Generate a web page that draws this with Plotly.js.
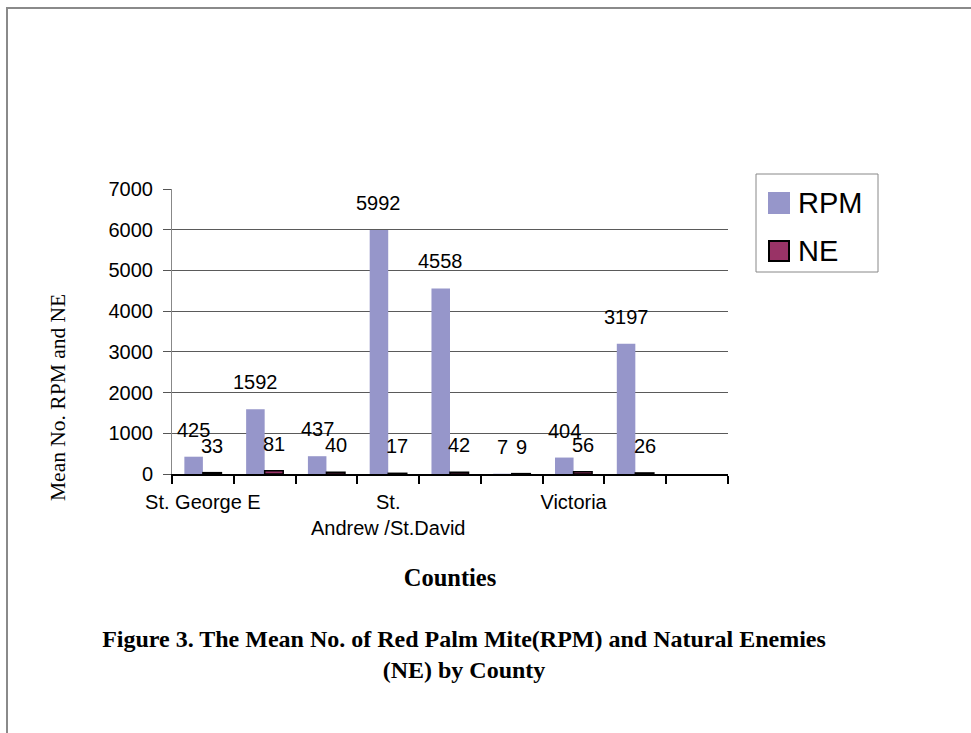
<!DOCTYPE html>
<html>
<head>
<meta charset="utf-8">
<script src="https://cdn.plot.ly/plotly-3.0.1.min.js"></script>
<style>
  html, body { margin: 0; padding: 0; background: #fff; }
  #wrap { position: relative; width: 971px; height: 733px; }
  #chart { width: 971px; height: 733px; }
  #frame { position: absolute; left: 6px; top: 7px; right: -10px; bottom: -10px;
           border-top: 2px solid #8a8a8a; border-left: 2px solid #8a8a8a; pointer-events: none; }
</style>
</head>
<body>
<div id="wrap"><div id="chart"></div><div id="frame"></div></div>
<script>
// ---- data ----
const categories = ["St. George E", "Site 2", "Site 3", "St. Andrew /St.David", "Site 5", "Site 6", "Victoria", "Site 8", "Site 9"];
const tickLabels = ["St. George E", "", "", "St.<br>Andrew /St.David", "", "", "Victoria", "", ""];
const seriesNames = ["RPM", "NE"];
const rpmValues = [425, 1592, 437, 5992, 4558, 7, 404, 3197, null];
const neValues = [33, 81, 40, 17, 42, 9, 56, 26, null];
const yTicks = [0, 1000, 2000, 3000, 4000, 5000, 6000, 7000];
const gridTicks = [1000, 2000, 3000, 4000, 5000, 6000];

// ---- styling ----
const W = 971, H = 733;
const M = { l: 172, r: W - 728, t: 189, b: H - 474 };
const plotW = W - M.l - M.r, plotH = H - M.t - M.b;
const colRPM = "#9696ca", colNE = "#993366";
const sans = "Liberation Sans, Arial, sans-serif";
const serif = "Liberation Serif, Times New Roman, serif";
const bargap = 0.4;
const catPx = plotW / categories.length;
const barOff = (1 - bargap) / 4 * catPx;

function px2paperX(px) { return (px - M.l) / plotW; }
function px2paperY(py) { return (M.t + plotH - py) / plotH; }

const traces = [
  { type: "bar", name: seriesNames[0], x: categories, y: rpmValues,
    marker: { color: colRPM, line: { width: 0 } }, hoverinfo: "x+y+name" },
  { type: "bar", name: seriesNames[1], x: categories, y: neValues,
    marker: { color: colNE, line: { color: "#000", width: 1.5 } }, hoverinfo: "x+y+name" },
  // invisible trace on overlay axis for the gridlines
  { type: "scatter", x: [categories[0]], y: [0], xaxis: "x", yaxis: "y2",
    mode: "markers", marker: { opacity: 0 }, hoverinfo: "skip", showlegend: false }
];

const annotations = [];
function addLabels(vals, shift) {
  vals.forEach((v, i) => {
    if (v === null) return;
    annotations.push({ x: categories[i], y: v, xref: "x", yref: "y", text: String(v),
      showarrow: false, xshift: shift, yshift: 27, yanchor: "middle",
      font: { family: sans, size: 20, color: "#000" } });
  });
}
addLabels(rpmValues, -barOff);
addLabels(neValues, barOff);

// y-axis title
annotations.push({ xref: "paper", yref: "paper", x: px2paperX(58), y: px2paperY(398),
  text: "Mean No. RPM and NE", textangle: -90, showarrow: false,
  xanchor: "center", yanchor: "middle", font: { family: serif, size: 21.5, color: "#000" } });

// legend (custom)
const shapes = [
  { type: "rect", xref: "paper", yref: "paper", x0: px2paperX(756), x1: px2paperX(878),
    y0: px2paperY(272), y1: px2paperY(174), line: { color: "#888", width: 1 }, fillcolor: "#fff" },
  { type: "rect", xref: "paper", yref: "paper", x0: px2paperX(768), x1: px2paperX(790),
    y0: px2paperY(214), y1: px2paperY(192), line: { width: 0 }, fillcolor: colRPM },
  { type: "rect", xref: "paper", yref: "paper", x0: px2paperX(769), x1: px2paperX(789),
    y0: px2paperY(261), y1: px2paperY(241), line: { color: "#000", width: 2 }, fillcolor: colNE }
];
annotations.push({ xref: "paper", yref: "paper", x: px2paperX(796), y: px2paperY(203),
  text: seriesNames[0], showarrow: false, xanchor: "left", yanchor: "middle",
  font: { family: sans, size: 29, color: "#000" } });
annotations.push({ xref: "paper", yref: "paper", x: px2paperX(796), y: px2paperY(251),
  text: seriesNames[1], showarrow: false, xanchor: "left", yanchor: "middle",
  font: { family: sans, size: 29, color: "#000" } });

const layout = {
  width: W, height: H,
  margin: M,
  paper_bgcolor: "rgba(0,0,0,0)", plot_bgcolor: "rgba(0,0,0,0)",
  showlegend: false,
  barmode: "group", bargap: bargap, bargroupgap: 0,
  font: { family: sans, size: 20, color: "#000" },
  title: { text: "Figure 3. The Mean No. of Red Palm Mite(RPM) and Natural Enemies<br>(NE) by County",
    font: { family: serif, size: 24, color: "#000", weight: "bold" },
    xref: "container", yref: "container", x: 464 / W, xanchor: "center",
    y: 1 - 647 / H, yanchor: "middle" },
  xaxis: {
    type: "category", categoryorder: "array", categoryarray: categories,
    tickvals: categories, ticktext: tickLabels, tickson: "boundaries", tickangle: 0,
    ticks: "outside", ticklen: 8, tickwidth: 2, tickcolor: "#000",
    showline: true, linecolor: "#000", linewidth: 2, showgrid: false,
    tickfont: { family: sans, size: 20, color: "#000" }, ticklabelstandoff: 9,
    range: [-0.5, categories.length - 0.5],
    title: { text: "Counties", font: { family: serif, size: 24.5, color: "#000", weight: "bold" }, standoff: 31 }
  },
  yaxis: {
    range: [0, 7000], tickvals: yTicks, ticktext: yTicks.map(String),
    ticks: "outside", ticklen: 8, tickwidth: 1, tickcolor: "#555",
    showline: true, linecolor: "#888", linewidth: 1, showgrid: false, zeroline: false,
    tickfont: { family: sans, size: 20, color: "#000" }, ticklabelstandoff: 6
  },
  yaxis2: {
    overlaying: "y", range: [0, 7000], tickvals: gridTicks, showticklabels: false,
    ticks: "", showgrid: true, gridcolor: "#5a5a5a", gridwidth: 1, zeroline: false, showline: false
  },
  shapes: shapes,
  annotations: annotations
};

Plotly.newPlot("chart", traces, layout, { staticPlot: true, displayModeBar: false });
</script>
</body>
</html>
